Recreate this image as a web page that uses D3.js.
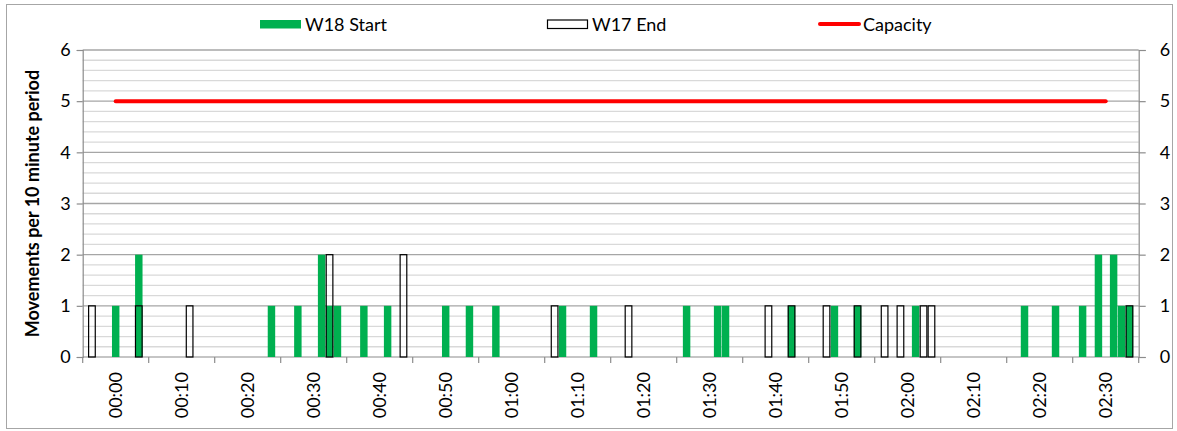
<!DOCTYPE html>
<html>
<head>
<meta charset="utf-8">
<script src="https://cdn.jsdelivr.net/npm/d3@7"></script>
<style>
  html, body { margin: 0; padding: 0; background: #fff; }
  svg text { font-family: Lato, "Noto Sans", sans-serif; fill: #000; }
</style>
</head>
<body>
<svg id="chart" width="1177" height="431"></svg>
<script>
// minutes after 00:00
const W18_TIMES  = [0.0, 3.5, 23.6, 27.6, 31.2, 32.4, 33.6, 37.6, 41.2, 50.0, 53.6, 57.6, 67.7, 72.4,
                    86.5, 91.2, 92.4, 102.4, 108.9, 112.4, 121.2, 137.7, 142.4, 146.5, 148.9, 151.2, 152.4, 153.6];
const W18_VALUES = [1, 2, 1, 1, 2, 1, 1, 1, 1, 1, 1, 1, 1, 1,
                    1, 1, 1, 1, 1, 1, 1, 1, 1, 1, 2, 2, 1, 1];

const W17_TIMES  = [-3.6, 3.5, 11.2, 32.4, 43.6, 66.5, 77.7, 98.9, 102.4, 107.7, 112.4,
                    116.5, 118.9, 122.4, 123.6, 153.6];
const W17_VALUES = [1, 1, 1, 2, 2, 1, 1, 1, 1, 1, 1,
                    1, 1, 1, 1, 1];

const CAP_TIMES  = [0, 10, 20, 30, 40, 50, 60, 70, 80, 90, 100, 110, 120, 130, 140, 150];
const CAP_VALUES = [5, 5, 5, 5, 5, 5, 5, 5, 5, 5, 5, 5, 5, 5, 5, 5];

const X_LABEL_TIMES = [0, 10, 20, 30, 40, 50, 60, 70, 80, 90, 100, 110, 120, 130, 140, 150];
const X_LABELS = ['00:00','00:10','00:20','00:30','00:40','00:50','01:00','01:10',
                  '01:20','01:30','01:40','01:50','02:00','02:10','02:20','02:30'];

const Y_TICKS = [0, 1, 2, 3, 4, 5, 6];

const SERIES_NAMES = ['W18 Start', 'W17 End', 'Capacity'];

const L = 82.7, R = 1138.7, T = 50, B = 357;
const BAR_MIN = 1.19;   // bar width in minutes
const GREEN = '#00b050', RED = '#ff0000';

const svg = d3.select('#chart');

const x = d3.scaleLinear().domain([-5, 155]).range([L, R]);
const y = d3.scaleLinear().domain([0, 6]).range([B, T]);

// outer chart border
svg.append('rect')
  .attr('x', 6.5).attr('y', 4.5)
  .attr('width', 1166).attr('height', 424)
  .attr('fill', 'none').attr('stroke', '#a6a6a6').attr('stroke-width', 1);

// minor grid (every 0.2)
const minor = d3.range(1, 30).filter(i => i % 5 !== 0).map(i => i / 5);
svg.append('g').selectAll('line').data(minor).join('line')
  .attr('x1', L).attr('x2', R)
  .attr('y1', d => y(d)).attr('y2', d => y(d))
  .attr('stroke', '#d9d9d9').attr('stroke-width', 1.3);

// major grid
svg.append('g').selectAll('line').data(Y_TICKS.slice(1)).join('line')
  .attr('x1', L).attr('x2', R)
  .attr('y1', d => y(d)).attr('y2', d => y(d))
  .attr('stroke', '#a6a6a6').attr('stroke-width', 1.3);

// left axis
const yLeft = svg.append('g')
  .attr('transform', `translate(${L},0)`)
  .call(d3.axisLeft(y).tickValues(Y_TICKS).tickFormat(d3.format('d')).tickSize(6).tickPadding(6));
// right axis
const yRight = svg.append('g')
  .attr('transform', `translate(${R},0)`)
  .call(d3.axisRight(y).tickValues(Y_TICKS).tickFormat(d3.format('d')).tickSize(7).tickPadding(14));
[yLeft, yRight].forEach(g => {
  g.select('.domain').attr('stroke', '#8c8c8c').attr('stroke-width', 1.2);
  g.selectAll('.tick line').attr('stroke', '#8c8c8c').attr('stroke-width', 1.2);
  g.selectAll('.tick text').attr('font-size', 18).attr('font-family', 'Lato, sans-serif');
});

// bottom axis: tick marks between 10-minute groups, labels in the middle
const xAxis = svg.append('g').attr('transform', `translate(0,${B})`);
xAxis.append('line').attr('x1', L).attr('x2', R)
  .attr('stroke', '#8c8c8c').attr('stroke-width', 1.2);
xAxis.selectAll('line.tk').data(d3.range(-5, 156, 10)).join('line')
  .attr('class', 'tk')
  .attr('x1', d => x(d)).attr('x2', d => x(d))
  .attr('y1', 0).attr('y2', 6)
  .attr('stroke', '#8c8c8c').attr('stroke-width', 1.2);
xAxis.selectAll('text').data(X_LABEL_TIMES).join('text')
  .attr('transform', d => `translate(${x(d) + 6.5},15) rotate(-90)`)
  .attr('text-anchor', 'end')
  .attr('font-size', 18)
  .text((d, i) => X_LABELS[i]);

// y axis title
svg.append('text')
  .attr('transform', `translate(39,${(T + B) / 2}) rotate(-90)`)
  .attr('text-anchor', 'middle')
  .attr('font-size', 18)
  .attr('font-weight', 'bold')
  .text('Movements per 10 minute period');

// W18 Start bars
const bw = x(BAR_MIN) - x(0);
svg.append('g').selectAll('rect').data(W18_TIMES).join('rect')
  .attr('x', d => x(d) - bw / 2 + 0.2)
  .attr('width', bw - 0.4)
  .attr('y', (d, i) => y(W18_VALUES[i]))
  .attr('height', (d, i) => y(0) - y(W18_VALUES[i]))
  .attr('fill', GREEN);

// W17 End bars (outline only)
svg.append('g').selectAll('rect').data(W17_TIMES).join('rect')
  .attr('x', d => x(d) - bw / 2 + 0.6)
  .attr('width', bw - 1.2)
  .attr('y', (d, i) => y(W17_VALUES[i]))
  .attr('height', (d, i) => y(0) - y(W17_VALUES[i]))
  .attr('fill', 'none')
  .attr('stroke', '#000')
  .attr('stroke-width', 1.2);

// Capacity line
const line = d3.line().x(d => x(d[0])).y(d => y(d[1]));
svg.append('path')
  .datum(CAP_TIMES.map((t, i) => [t, CAP_VALUES[i]]))
  .attr('d', line)
  .attr('fill', 'none')
  .attr('stroke', RED)
  .attr('stroke-width', 4)
  .attr('stroke-linecap', 'round');

// legend
const leg = svg.append('g').attr('transform', 'translate(0,24)');
const legX = [260, 547, 818];
SERIES_NAMES.forEach((name, i) => {
  const g = leg.append('g').attr('transform', `translate(${legX[i]},0)`);
  if (i === 0) {
    g.append('rect').attr('x', 0).attr('y', -4).attr('width', 41).attr('height', 8.5).attr('fill', GREEN);
  } else if (i === 1) {
    g.append('rect').attr('x', 0.5).attr('y', -4).attr('width', 40).attr('height', 8.5)
      .attr('fill', 'none').attr('stroke', '#000').attr('stroke-width', 1.2);
  } else {
    g.append('line').attr('x1', 2).attr('x2', 41).attr('y1', 0).attr('y2', 0)
      .attr('stroke', RED).attr('stroke-width', 4).attr('stroke-linecap', 'round');
  }
  g.append('text').attr('x', 45).attr('y', 6.5).attr('font-size', 18).text(name);
});
</script>
</body>
</html>
